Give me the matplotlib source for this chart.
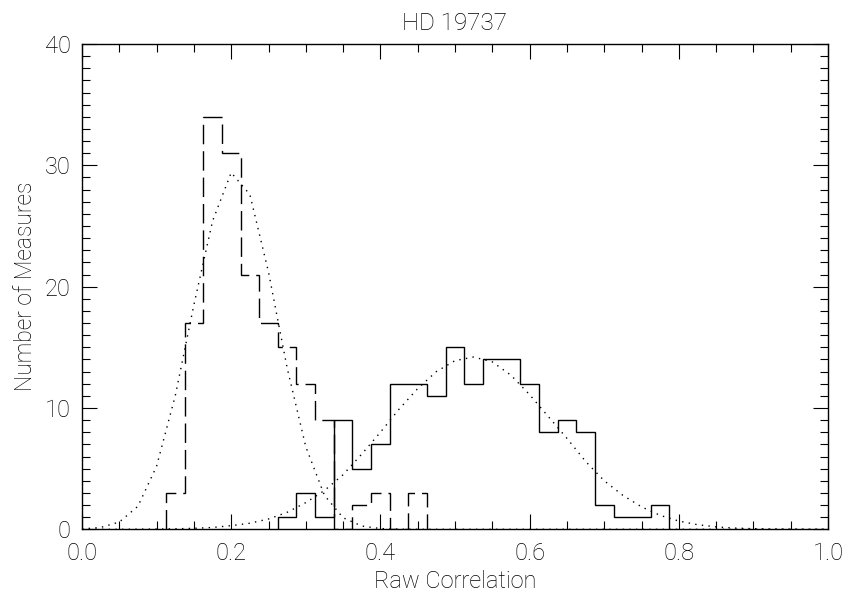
import numpy as np
import matplotlib
matplotlib.use("Agg")
import matplotlib.pyplot as plt
from matplotlib.ticker import MultipleLocator, FormatStrFormatter

# ---- data ----
bin_width = 0.025

# solid histogram (bin centres and counts)
solid_centers = [0.275, 0.300, 0.325, 0.350, 0.375, 0.400, 0.425, 0.450, 0.475, 0.500,
                 0.525, 0.550, 0.575, 0.600, 0.625, 0.650, 0.675, 0.700, 0.725, 0.750, 0.775]
solid_counts = [1, 3, 1, 9, 5, 7, 12, 12, 11, 15,
                12, 14, 14, 12, 8, 9, 8, 2, 1, 1, 2]

# dashed histogram
dashed_centers = [0.125, 0.150, 0.175, 0.200, 0.225, 0.250, 0.275, 0.300, 0.325,
                  0.350, 0.375, 0.400, 0.425, 0.450]
dashed_counts = [3, 17, 34, 31, 21, 17, 15, 12, 9,
                 0, 2, 3, 0, 3]

# dotted fit curves
curve_x = [0.000, 0.025, 0.050, 0.075, 0.100, 0.125, 0.150, 0.175, 0.200, 0.225,
           0.250, 0.275, 0.300, 0.325, 0.350, 0.375, 0.400, 0.425, 0.450, 0.475,
           0.500, 0.525, 0.550, 0.575, 0.600, 0.625, 0.650, 0.675, 0.700, 0.725,
           0.750, 0.775, 0.800, 0.825, 0.850, 0.875, 0.900, 0.925, 0.950, 0.975, 1.000]
fit_left = [0.03, 0.15, 0.6, 1.9, 5.2, 11.0, 18.5, 25.4, 29.4, 27.6,
            21.2, 13.3, 6.8, 2.8, 0.95, 0.27, 0.06, 0.01, 0.0, 0.0,
            0.0, 0.0, 0.0, 0.0, 0.0, 0.0, 0.0, 0.0, 0.0, 0.0,
            0.0, 0.0, 0.0, 0.0, 0.0, 0.0, 0.0, 0.0, 0.0, 0.0, 0.0]
fit_right = [0.0, 0.0, 0.0, 0.01, 0.02, 0.04, 0.08, 0.15, 0.3, 0.5,
             0.85, 1.4, 2.2, 3.2, 4.5, 6.2, 8.0, 9.9, 11.6, 13.0,
             13.9, 14.2, 13.8, 12.7, 11.1, 9.3, 7.5, 5.6, 4.0, 2.8,
             1.85, 1.15, 0.68, 0.38, 0.2, 0.1, 0.05, 0.02, 0.01, 0.0, 0.0]

title = "HD 19737"
xlabel = "Raw Correlation"
ylabel = "Number of Measures"

# ---- figure ----
plt.rcParams['font.family'] = ['Roboto', 'DejaVu Sans']
plt.rcParams['font.weight'] = 'light'
plt.rcParams['axes.titleweight'] = 'light'
plt.rcParams['axes.labelweight'] = 'light'
fig = plt.figure(figsize=(8.49, 5.99), dpi=100)
ax = fig.add_axes([82/849, 1 - 529.3/599, (828-82)/849, (529.3-44)/599])

def edges_from(centers):
    c = np.asarray(centers)
    return np.append(c - bin_width/2, c[-1] + bin_width/2)

ax.plot(curve_x, fit_left, color='black', lw=1.0, linestyle=(0, (1, 3.8)))
ax.plot(curve_x, fit_right, color='black', lw=1.0, linestyle=(0, (1, 3.8)))
ax.stairs(dashed_counts, edges_from(dashed_centers), baseline=0, fill=False,
          color='black', lw=1.0, linestyle=(0, (14, 5)))
ax.stairs(solid_counts, edges_from(solid_centers), baseline=0, fill=False,
          color='black', lw=1.0)

ax.set_xlim(0, 1)
ax.set_ylim(0, 40)
ax.xaxis.set_major_locator(MultipleLocator(0.2))
ax.xaxis.set_minor_locator(MultipleLocator(0.05))
ax.yaxis.set_major_locator(MultipleLocator(10))
ax.yaxis.set_minor_locator(MultipleLocator(1))
ax.xaxis.set_major_formatter(FormatStrFormatter('%.1f'))
ax.tick_params(which='both', direction='in', top=True, right=True, width=0.8,
               labelsize=17, colors='black')
ax.tick_params(which='major', length=11)
ax.tick_params(which='minor', length=5.5)
ax.tick_params(axis='x', which='major', pad=9)
ax.tick_params(axis='y', which='major', pad=8)
for sp in ax.spines.values():
    sp.set_linewidth(1.0)

ax.set_title(title, fontsize=17.5, pad=10)
ax.set_xlabel(xlabel, fontsize=17, labelpad=4)
ax.set_ylabel(ylabel, fontsize=16.5, labelpad=6)

fig.savefig("out.png", dpi=100)
